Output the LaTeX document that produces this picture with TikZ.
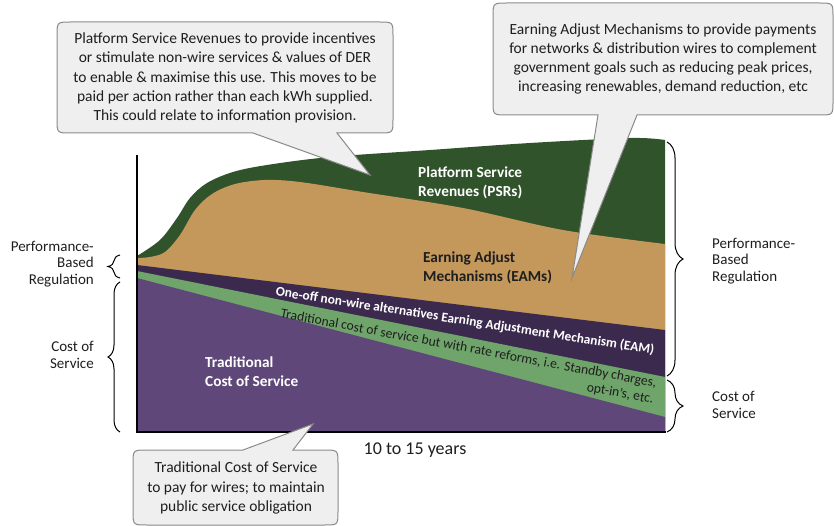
\documentclass[tikz,border=0pt]{standalone}
\usepackage{fontspec}
\setmainfont{Carlito}
\usetikzlibrary{decorations.pathreplacing}
\definecolor{dgreen}{HTML}{31532B}
\definecolor{tanlayer}{HTML}{C4975A}
\definecolor{dpurple}{HTML}{3B2A4E}
\definecolor{lgreen}{HTML}{6FA46A}
\definecolor{cospurple}{HTML}{5F4879}
\definecolor{cfill}{HTML}{EFEFEF}
\definecolor{cborder}{HTML}{8A8A8A}
\definecolor{txt}{HTML}{1E1E1E}
\begin{document}
\begin{tikzpicture}[x=1pt,y=-1pt,
  axisline/.style={line width=2pt,black},
  bracestyle/.style={decorate,decoration={brace,amplitude=#1},line width=1pt,black},
  lbl/.style={inner sep=0pt,text=txt,font=\fontsize{15}{16.7}\selectfont},
  chartw/.style={inner sep=0pt,text=white,align=left,anchor=west,font=\fontsize{15.3}{19}\selectfont\bfseries},
  chartb/.style={inner sep=0pt,text=txt,align=left,anchor=west,font=\fontsize{15.3}{19}\selectfont\bfseries},
  callout/.style={fill=cfill,draw=cborder,line width=1pt},
  ctext/.style={inner sep=0pt,text=txt,align=center,font=\fontsize{15.5}{19.3}\selectfont},
  bandw/.style={inner sep=0pt,text=white,font=\fontsize{13.4}{15}\selectfont\bfseries},
  bandb/.style={inner sep=0pt,text=txt,font=\fontsize{13.6}{16.5}\selectfont},
  xlbl/.style={inner sep=0pt,text=txt,font=\fontsize{18}{20}\selectfont}]
\useasboundingbox (0,0) rectangle (834,526);
% layers
\fill[dgreen] plot[smooth,tension=0.55] coordinates {(137,256) (160,240) (177,218) (190,198) (207,183) (233,172) (267,165) (330,157) (430,150) (530,143) (630,138) (665,140)} -- (665,432) -- (137,432) -- cycle;
\fill[tanlayer] plot[smooth,tension=0.55] coordinates {(137,258) (150,257) (165,252) (180,235) (195,210) (212,194) (235,184) (265,180) (300,182) (363,192) (463,208) (563,230) (665,244)} -- (665,432) -- (137,432) -- cycle;
\fill[dpurple] (137,265) -- (665,330) -- (665,432) -- (137,432) -- cycle;
\fill[lgreen] (137,271) -- (665,377) -- (665,432) -- (137,432) -- cycle;
\fill[cospurple] (137,278) -- (665,417) -- (665,432) -- (137,432) -- cycle;
% axes
\coordinate (ytop) at (137,155);
\coordinate (orig) at (137,432);
\coordinate (xend) at (666,432);
\draw[axisline] (ytop) -- (orig) -- (xend);
% braces
\coordinate (lb1) at (120,278); \coordinate (lb2) at (120,255);
\coordinate (lb3) at (120,432); \coordinate (lb4) at (120,282);
\coordinate (rb1) at (667,142); \coordinate (rb2) at (667,376);
\coordinate (rb3) at (667,380); \coordinate (rb4) at (667,432);
\draw[bracestyle=12pt] (lb1) -- (lb2);
\draw[bracestyle=12pt] (lb3) -- (lb4);
\draw[bracestyle=16pt] (rb1) -- (rb2);
\draw[bracestyle=16pt] (rb3) -- (rb4);
% side labels
\node[lbl,align=right,anchor=east] (lpbr) at (94,264) {Performance-\\Based\\Regulation};
\node[lbl,align=right,anchor=east] (lcos) at (94,355) {Cost of\\Service};
\node[lbl,align=left,anchor=west] (rpbr) at (712,261) {Performance-\\Based\\Regulation};
\node[lbl,align=left,anchor=west] (rcos) at (712,405) {Cost of\\Service};
% chart labels
\node[chartw] (psr) at (418,183) {Platform Service\\Revenues (PSRs)};
\node[chartb] (eam) at (423,268) {Earning Adjust\\Mechanisms (EAMs)};
\node[chartw] (tcos) at (205,372) {Traditional\\Cost of Service};
\node[bandw,rotate=-8.8] (oneoff) at (465,321) {One-off non-wire alternatives Earning Adjustment Mechanism (EAM)};
\node[bandb,rotate=-10.5,align=right] (trcs) at (467,357) {Traditional cost of service but with rate reforms, i.e. Standby charges,\\opt-in’s, etc.};
\node[xlbl] (xl) at (415,450) {10 to 15 years};
% callouts
\coordinate (t1) at (370,175);
\coordinate (t2) at (572,278);
\coordinate (t3) at (313,424);
\draw[callout] (71,22) -- (379,22) .. controls (393,22) .. (393,36) -- (393,119) .. controls (393,133) .. (379,133) -- (337,133) -- (t1) -- (253,133) -- (71,133) .. controls (57,133) .. (57,119) -- (57,36) .. controls (57,22) .. (71,22) -- cycle;
\draw[callout] (507,3) -- (819,3) .. controls (833,3) .. (833,17) -- (833,101) .. controls (833,115) .. (819,115) -- (637,115) -- (t2) -- (598,115) -- (507,115) .. controls (493,115) .. (493,101) -- (493,17) .. controls (493,3) .. (507,3) -- cycle;
\draw[callout] (147,450) -- (243,450) -- (t3) -- (293,450) -- (324,450) .. controls (338,450) .. (338,464) -- (338,511) .. controls (338,525) .. (324,525) -- (147,525) .. controls (133,525) .. (133,511) -- (133,464) .. controls (133,450) .. (147,450) -- cycle;
\node[ctext] (c1t) at (225,78) {Platform Service Revenues to provide incentives\\or stimulate non-wire services \& values of DER\\to enable \& maximise this use. This moves to be\\paid per action rather than each kWh supplied.\\This could relate to information provision.};
\node[ctext] (c2t) at (663,59) {Earning Adjust Mechanisms to provide payments\\for networks \& distribution wires to complement\\government goals such as reducing peak prices,\\increasing renewables, demand reduction, etc};
\node[ctext] (c3t) at (236,488) {Traditional Cost of Service\\to pay for wires; to maintain\\public service obligation};
\end{tikzpicture}
\end{document}
